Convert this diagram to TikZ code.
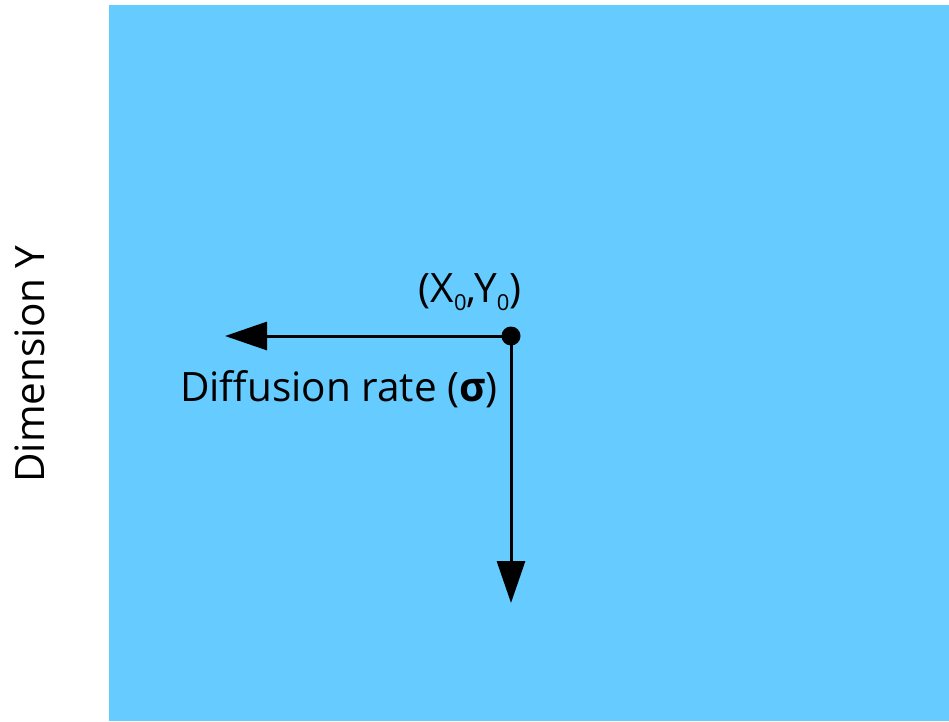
\documentclass[tikz,border=0pt]{standalone}
\usepackage{fontspec}
\setmainfont{Open Sans}
\usetikzlibrary{arrows.meta}
\definecolor{skyblue}{HTML}{66CCFF}
\newcommand{\sub}[1]{\raisebox{-8pt}{\fontsize{22}{24}\selectfont #1}}

\begin{document}
\begin{tikzpicture}[x=1pt,y=-1pt,
    axis/.style={line width=3pt,-{Triangle[length=42pt,width=28pt]}},
    lbl/.style={font=\fontsize{40.5}{46}\selectfont,inner sep=0pt}]
  \useasboundingbox (0,0) rectangle (949,721);
  \fill[skyblue] (109,5) rectangle (949,721);

  \coordinate (O) at (511,336);
  \coordinate (L) at (225,336);
  \coordinate (D) at (511,603);

  \draw[axis] (O) -- (L);
  \draw[axis] (O) -- (D);
  \fill (O) circle (9.5pt);

  \node[lbl,anchor=base] (start) at (470,302) {(X\sub{0},Y\sub{0})};
  \node[lbl,anchor=base] (rate)  at (339,401) {Diffusion rate (\textbf{σ})};
  \node[lbl,anchor=base,rotate=90] (dimy) at (44,364) {Dimension Y};
\end{tikzpicture}
\end{document}
